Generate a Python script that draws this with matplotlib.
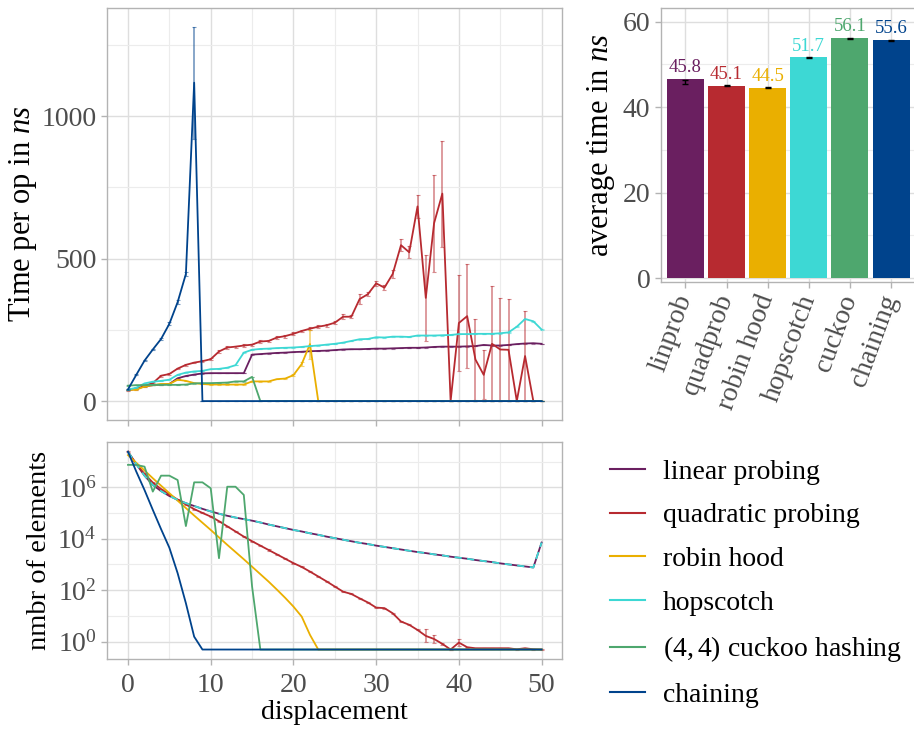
import numpy as np
import matplotlib.pyplot as plt
from matplotlib.ticker import FixedLocator, LogFormatterMathtext, NullFormatter
from matplotlib.lines import Line2D

plt.rcParams.update({
    "font.family": "Liberation Serif",
    "mathtext.fontset": "custom",
    "mathtext.rm": "Liberation Serif",
    "mathtext.it": "Liberation Serif:italic",
    "axes.edgecolor": "#b3b3b3",
    "axes.linewidth": 1.0,
    "xtick.color": "#b3b3b3",
    "ytick.color": "#b3b3b3",
    "xtick.labelcolor": "#4d4d4d",
    "ytick.labelcolor": "#4d4d4d",
    "xtick.labelsize": 20,
    "ytick.labelsize": 20,
    "axes.labelsize": 20,
})

COLORS = {
    "linprob": "#6a1f60",
    "quadprob": "#b72a30",
    "robin": "#eaaf00",
    "hopscotch": "#3dd8d4",
    "cuckoo": "#4ea76e",
    "chaining": "#00438c",
}

displacement = list(range(51))

# time per op (ns) by displacement
time_linprob = [39, 44, 51, 56, 58, 60, 80, 88, 93, 97,
                98, 98, 98, 98, 98, 163, 165, 167, 169, 170,
                172, 173, 175, 176, 177, 179, 181, 182, 182, 183,
                184, 184, 185, 186, 187, 187, 188, 190, 191, 191,
                191, 192, 193, 197, 195, 195, 197, 200, 202, 203, 201]
time_quadprob = [39, 42, 54, 63, 89, 95, 114, 127, 135, 140,
                 147, 174, 188, 191, 195, 198, 209, 211, 223, 228,
                 236, 246, 254, 261, 266, 275, 296, 296, 358, 375,
                 413, 398, 446, 547, 522, 683, 362, 624, 728, 0,
                 274, 298, 146, 92, 201, 181, 180, 0, 158, 0, 0]
sd_quadprob = [2, 2, 2, 2, 3, 3, 3, 3, 3, 3,
               3, 4, 4, 4, 4, 4, 4, 4, 5, 5,
               5, 5, 5, 5, 6, 6, 8, 6, 17, 8,
               10, 8, 15, 22, 21, 41, 150, 170, 186, 0,
               169, 183, 143, 86, 204, 180, 178, 0, 157, 0, 0]
time_robin = [39, 40, 51, 56, 60, 60, 75, 71, 63, 60,
              58, 58, 58, 58, 58, 69, 69, 69, 77, 79,
              91, 130, 200, 0] + [0] * 27
sd_robin = [1] * 20 + [4, 8, 51, 0] + [0] * 27
time_hopscotch = [40, 47, 62, 68, 71, 75, 92, 100, 104, 106,
                  112, 113, 117, 126, 170, 180, 183, 184, 186, 187,
                  188, 190, 193, 195, 198, 201, 205, 211, 217, 218,
                  224, 223, 226, 226, 225, 230, 230, 230, 231, 232,
                  235, 235, 236, 236, 236, 238, 241, 261, 288, 280, 251]
time_cuckoo = [54, 56, 56, 57, 57, 57, 57, 58, 62, 63,
               63, 64, 65, 69, 69, 85, 0] + [0] * 34
time_chaining = [41, 92, 142, 181, 218, 271, 347, 446, 1117, 0] + [0] * 41
sd_chaining = [1, 2, 3, 3, 4, 5, 6, 8, 197, 0] + [0] * 41

# number of elements by displacement, as log10 (empty bins sit at -0.31)
cnt_linprob = [7.38, 6.90, 6.45, 6.09, 5.85, 5.66, 5.51, 5.38, 5.27, 5.16,
               5.06, 4.97, 4.89, 4.82, 4.76, 4.70, 4.63, 4.55, 4.48, 4.41,
               4.34, 4.28, 4.21, 4.15, 4.08, 4.02, 3.96, 3.90, 3.84, 3.79,
               3.73, 3.68, 3.63, 3.58, 3.53, 3.48, 3.44, 3.39, 3.35, 3.30,
               3.26, 3.22, 3.17, 3.13, 3.09, 3.04, 3.00, 2.96, 2.92, 2.88, 3.85]
cnt_hopscotch = [7.38, 6.90, 6.45, 6.09, 5.85, 5.66, 5.51, 5.38, 5.27, 5.16,
                 5.06, 4.97, 4.89, 4.82, 4.76, 4.70, 4.63, 4.55, 4.48, 4.41,
                 4.34, 4.28, 4.21, 4.15, 4.08, 4.02, 3.96, 3.90, 3.84, 3.79,
                 3.73, 3.68, 3.63, 3.58, 3.53, 3.48, 3.44, 3.39, 3.35, 3.30,
                 3.26, 3.22, 3.17, 3.13, 3.09, 3.04, 3.00, 2.96, 2.92, 2.88, 3.85]
cnt_quadprob = [7.38, 6.90, 6.52, 6.18, 5.93, 5.72, 5.52, 5.33, 5.15, 5.00,
                4.86, 4.68, 4.48, 4.28, 4.08, 3.90, 3.73, 3.56, 3.39, 3.22,
                3.05, 2.90, 2.72, 2.53, 2.34, 2.14, 1.94, 1.85, 1.68, 1.52,
                1.32, 1.30, 1.10, 0.78, 0.65, 0.45, 0.22, 0.10, -0.09, -0.31,
                -0.04, -0.22, -0.26, -0.26, -0.26, -0.26, -0.26, -0.30, -0.26, -0.30, -0.31]
err_quadprob = [0.02] * 36 + [0.25, 0.15, 0.03, 0.0, 0.15] + [0.02] * 10
cnt_robin = [7.25, 6.95, 6.65, 6.35, 6.06, 5.77, 5.48, 5.19, 4.90, 4.62,
             4.34, 4.05, 3.76, 3.48, 3.20, 2.91, 2.62, 2.33, 2.02, 1.70,
             1.36, 0.97, 0.26] + [-0.31] * 28
cnt_cuckoo = [6.87, 6.87, 6.80, 5.83, 6.45, 6.45, 6.28, 4.49, 6.19, 6.19,
              5.96, 3.24, 6.02, 6.02, 5.70, 2.14] + [-0.31] * 35
cnt_chaining = [7.38, 6.61, 5.89, 5.12, 4.37, 3.65, 2.66, 1.49, 0.19] + [-0.31] * 42

# average time bars
bar_keys = ["linprob", "quadprob", "robin", "hopscotch", "cuckoo", "chaining"]
bar_names = ["linprob", "quadprob", "robin hood", "hopscotch", "cuckoo", "chaining"]
bar_heights = [46.6, 45.0, 44.5, 51.7, 56.2, 55.7]
bar_means = [45.8, 45.1, 44.5, 51.7, 56.1, 55.6]
bar_sd = [0.45, 0.1, 0.1, 0.1, 0.1, 0.1]

legend_names = ["linear probing", "quadratic probing", "robin hood",
                "hopscotch", "$(4,4)$ cuckoo hashing", "chaining"]


def style_axis(ax):
    ax.set_facecolor("white")
    ax.grid(which="major", color="#dedede", linewidth=1.0)
    ax.grid(which="minor", color="#ececec", linewidth=0.8)
    ax.set_axisbelow(True)
    ax.tick_params(which="major", length=4, width=1)
    ax.tick_params(which="minor", length=0)


def plot_series(ax, x, y, sd, color, **kw):
    y = np.asarray(y, float)
    sd = np.asarray(sd, float)
    lo = np.clip(y - sd, 0, None)
    hi = y + sd
    ax.errorbar(x, y, yerr=[y - lo, hi - y], fmt="none", ecolor=color,
                alpha=0.55, elinewidth=1.2, capsize=1.2, capthick=0.8)
    ax.plot(x, y, color=color, linewidth=1.3, **kw)


fig = plt.figure(figsize=(9.14, 7.29), dpi=100)

# --- time per op ---
ax1 = fig.add_axes([0.1174, 0.424, 0.4978, 0.565])
style_axis(ax1)
plot_series(ax1, displacement, time_linprob, [1] * 51, COLORS["linprob"])
plot_series(ax1, displacement, time_quadprob, sd_quadprob, COLORS["quadprob"])
plot_series(ax1, displacement, time_robin, sd_robin, COLORS["robin"])
plot_series(ax1, displacement, time_hopscotch, [1] * 51, COLORS["hopscotch"])
plot_series(ax1, displacement, time_cuckoo, [1] * 51, COLORS["cuckoo"])
plot_series(ax1, displacement, time_chaining, sd_chaining, COLORS["chaining"])
ax1.set_xlim(-2.5, 52.5)
ax1.set_ylim(-66, 1379)
ax1.xaxis.set_major_locator(FixedLocator([0, 10, 20, 30, 40, 50]))
ax1.xaxis.set_minor_locator(FixedLocator([5, 15, 25, 35, 45]))
ax1.yaxis.set_major_locator(FixedLocator([0, 500, 1000]))
ax1.yaxis.set_minor_locator(FixedLocator([250, 750, 1250]))
ax1.tick_params(axis="x", labelbottom=False)
ax1.set_ylabel("Time per op in $ns$", fontsize=22, labelpad=2)

# --- number of elements ---
ax2 = fig.add_axes([0.1174, 0.0956, 0.4978, 0.2985])
style_axis(ax2)
pw = lambda v: 10 ** np.asarray(v, float)
ax2.plot(displacement, pw(cnt_linprob), color=COLORS["linprob"], lw=1.3)
ax2.errorbar(displacement, pw(cnt_quadprob),
             yerr=[pw(cnt_quadprob) - pw(np.array(cnt_quadprob) - err_quadprob),
                   pw(np.array(cnt_quadprob) + err_quadprob) - pw(cnt_quadprob)],
             fmt="none", ecolor=COLORS["quadprob"], alpha=0.55,
             elinewidth=1.2, capsize=1.2, capthick=0.8)
ax2.plot(displacement, pw(cnt_quadprob), color=COLORS["quadprob"], lw=1.3)
ax2.plot(displacement, pw(cnt_robin), color=COLORS["robin"], lw=1.3)
ax2.plot(displacement, pw(cnt_hopscotch), color=COLORS["hopscotch"], lw=1.3,
         linestyle=(0, (4, 3)))
ax2.plot(displacement, pw(cnt_cuckoo), color=COLORS["cuckoo"], lw=1.3)
ax2.plot(displacement, pw(cnt_chaining), color=COLORS["chaining"], lw=1.3)
ax2.set_yscale("log")
ax2.set_xlim(-2.5, 52.5)
ax2.set_ylim(10 ** -0.69, 10 ** 7.77)
ax2.xaxis.set_major_locator(FixedLocator([0, 10, 20, 30, 40, 50]))
ax2.xaxis.set_minor_locator(FixedLocator([5, 15, 25, 35, 45]))
ax2.yaxis.set_major_locator(FixedLocator([1, 1e2, 1e4, 1e6]))
ax2.yaxis.set_major_formatter(LogFormatterMathtext())
ax2.yaxis.set_minor_locator(FixedLocator([10, 1e3, 1e5, 1e7]))
ax2.yaxis.set_minor_formatter(NullFormatter())
ax2.tick_params(axis="x", pad=6)
ax2.set_xlabel("displacement", labelpad=1)
ax2.set_ylabel("nmbr of elements", fontsize=20.5, labelpad=4)

# --- average time bars ---
ax3 = fig.add_axes([0.7229, 0.6136, 0.279, 0.375])
style_axis(ax3)
pos = np.arange(len(bar_keys))
bcols = [COLORS[k] for k in bar_keys]
ax3.bar(pos, bar_heights, width=0.9, color=bcols, zorder=2)
ax3.errorbar(pos, bar_means, yerr=bar_sd, fmt="none", ecolor="black",
             elinewidth=1.0, capsize=2.5, capthick=1.0, zorder=3)
for p, h, m, c in zip(pos, bar_heights, bar_means, bcols):
    ax3.text(p, h + 0.6, f"{m:.1f}", color=c, ha="center", va="bottom", fontsize=13.5)
ax3.set_xlim(-0.6, 5.6)
ax3.set_ylim(-0.8, 63.1)
ax3.yaxis.set_major_locator(FixedLocator([0, 20, 40, 60]))
ax3.yaxis.set_minor_locator(FixedLocator([10, 30, 50]))
ax3.set_xticks(pos)
ax3.set_xticklabels(bar_names, rotation=70, ha="right", va="center",
                    rotation_mode="anchor")
ax3.tick_params(axis="x", pad=6)
ax3.set_ylabel("average time in $ns$", fontsize=22, labelpad=4)

# --- legend ---
handles = [Line2D([], [], color=COLORS[k], lw=1.5) for k in bar_keys]
fig.legend(handles, legend_names, loc="upper left",
           bbox_to_anchor=(0.655, 1 - 448 / 729), frameon=False, fontsize=20,
           handlelength=1.25, handletextpad=0.65, labelspacing=0.66,
           borderaxespad=0)

fig.savefig("out.png", dpi=100, facecolor="white")
